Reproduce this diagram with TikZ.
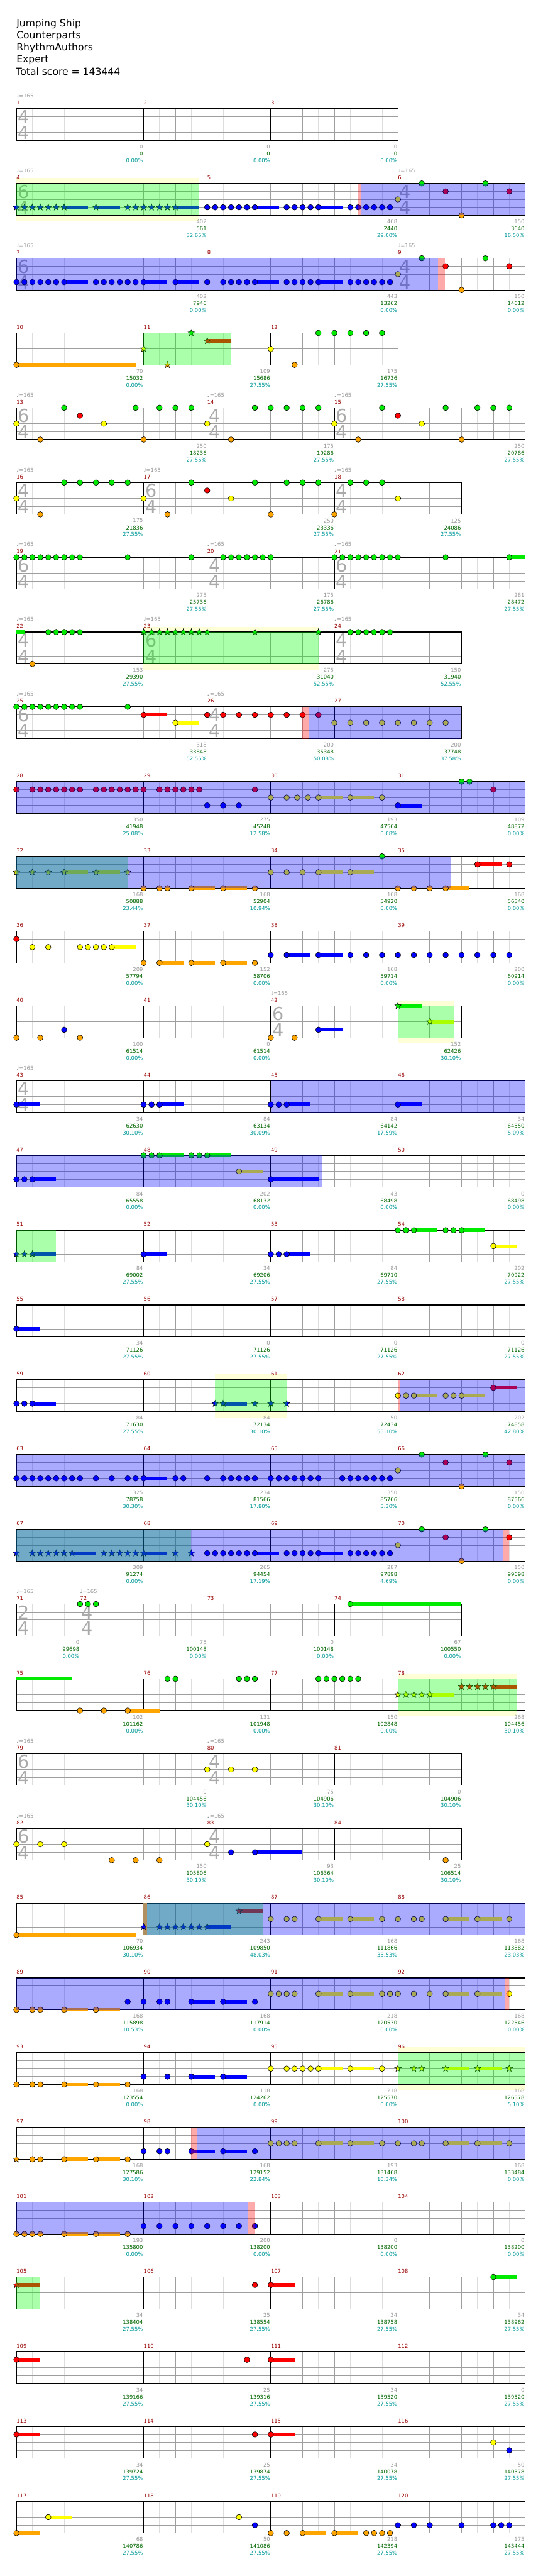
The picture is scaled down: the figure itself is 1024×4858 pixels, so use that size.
\documentclass[tikz,border=0pt]{standalone}
\usepackage{fontspec}
\setmainfont{DejaVu Sans}
\usetikzlibrary{shapes.geometric}

\definecolor{lane0}{RGB}{0,235,0}
\definecolor{lane1}{RGB}{255,0,0}
\definecolor{lane2}{RGB}{255,255,0}
\definecolor{lane3}{RGB}{0,0,255}
\definecolor{lane4}{RGB}{255,165,0}
\definecolor{numred}{RGB}{153,0,0}
\definecolor{scgray}{RGB}{153,153,153}
\definecolor{scgreen}{RGB}{0,102,0}
\definecolor{sccyan}{RGB}{0,153,153}
\definecolor{bgyellow}{RGB}{255,255,215}
\definecolor{tangold}{RGB}{176,144,96}
\definecolor{gridlight}{RGB}{221,221,221}
\definecolor{griddark}{RGB}{158,158,158}
\definecolor{tsgray}{RGB}{170,170,170}

\newcommand{\lblfont}{\fontsize{10}{12}\selectfont}

\newcommand{\staff}[2]{%
  \fill[white] (0,0) rectangle (#1,4);
  \foreach \g in {2,6,...,#1} \draw[halfline] (\g,0) -- (\g,4);
  \foreach \l in {1,2,3} \draw[laneline] (0,\l) -- (#1,\l);
  \foreach \g in {4,8,...,#1} \draw[beatline] (\g,0) -- (\g,4);
  \foreach \b in {#2} \draw[barline] (\b,0) -- (\b,4);
  \draw[staffline] (0,0) rectangle (#1,4);}
\newcommand{\bars}[1]{\foreach \p/\m in {#1} \node[mnum] (m\m) at (\p,-0.73) {\m};}
\newcommand{\tempos}[1]{\foreach \p in {#1} \node[tempo] (\rowid-bpm\p) at (\p,-1.6) {♩=165};}
\newcommand{\tsig}[3]{%
  \node[tsig] (\rowid-ts#1a) at (#1+0.93,1.03) {#2};
  \node[tsig] (\rowid-ts#1b) at (#1+0.93,3.05) {#3};}
\newcommand{\gems}[2]{\foreach \n [count=\i] in {#2} \node[gem, fill=lane#1] (\rowid-#1-\i) at (\n,#1) {};}
\newcommand{\stars}[2]{\foreach \n [count=\i] in {#2} \node[stargem, fill=lane#1] (\rowid-#1s\i) at (\n,#1) {};}
\newcommand{\tails}[2]{\foreach \a/\b in {#2} \fill[lane#1] (\a,#1-0.23) rectangle (\b,#1+0.23);}
\newcommand{\spbg}[2]{\fill[bgyellow] (#1,-0.67) rectangle (#2,4.73);}
\newcommand{\spgreen}[2]{\fill[spzone] (#1,0) rectangle (#2,4);}
\newcommand{\spblue}[2]{\fill[actzone] (#1,0) rectangle (#2,4);}
\newcommand{\sppink}[2]{\fill[pinkzone] (#1,0) rectangle (#2,4);}
\newcommand{\scores}[1]{\foreach \p/\va/\vb/\vc in {#1} {%
  \node[sgray] (\rowid-a\p) at (\p,4.8) {\va};
  \node[sgreen] (\rowid-b\p) at (\p,5.67) {\vb};
  \node[scyan] (\rowid-c\p) at (\p,6.53) {\vc\%};}}

\begin{document}
\begin{tikzpicture}[x=1pt, y=-1pt,
  chartrow/.style={shift={(31,#1)}, x=15pt, y=-15pt},
  title/.style={anchor=base west, inner sep=0pt, font=\fontsize{18.5}{22}\selectfont},
  mnum/.style={anchor=west, inner sep=0pt, font=\lblfont, text=numred},
  tempo/.style={anchor=west, inner sep=0pt, font=\lblfont, text=scgray},
  sgray/.style={anchor=east, inner xsep=1pt, inner ysep=0pt, font=\lblfont, text=scgray},
  sgreen/.style={sgray, text=scgreen},
  scyan/.style={sgray, text=sccyan},
  tsig/.style={inner sep=0pt, font=\fontsize{34}{34}\selectfont, text=tsgray},
  halfline/.style={gridlight, line width=0.8pt},
  beatline/.style={griddark, line width=0.9pt},
  laneline/.style={griddark, line width=0.9pt},
  barline/.style={black, line width=1pt},
  staffline/.style={black, line width=1.3pt},
  gem/.style={circle, draw=black, line width=0.7pt, minimum size=10.5pt, inner sep=0pt},
  stargem/.style={star, star points=5, star point ratio=2.4, draw=black, line width=0.6pt, minimum size=13pt, inner sep=0pt},
  spzone/.style={fill={rgb,255:red,0;green,255;blue,0}, fill opacity=0.334},
  actzone/.style={fill={rgb,255:red,0;green,0;blue,255}, fill opacity=0.334},
  pinkzone/.style={fill={rgb,255:red,255;green,0;blue,0}, fill opacity=0.334},
  tanzone/.style={fill=tangold}]
\useasboundingbox (0,0) rectangle (1024,4858);
\fill[white] (0,0) rectangle (1024,4858);

\node[title] (song) at (31,50) {Jumping Ship};
\node[title] (artist) at (31,73) {Counterparts};
\node[title] (charter) at (31,96) {RhythmAuthors};
\node[title] (level) at (31,118.5) {Expert};
\node[title] (total) at (30,141.5) {Total score = 143444};

\begin{scope}[chartrow=205]\def\rowid{r0}
\staff{48}{16,32}
\tsig{0}{4}{4}
\tempos{0}
\bars{0/1,16/2,32/3}
\scores{16/0/0/0.00,32/0/0/0.00,48/0/0/0.00}
\end{scope}

\begin{scope}[chartrow=346]\def\rowid{r1}
\spbg{0}{23}
\staff{64}{24,48}
\tsig{0}{6}{4}\tsig{48}{4}{4}
\tempos{0,48}
\bars{0/4,24/5,48/6}
\tails{3}{6/9,10/13,20/23,30/33,38/41}
\stars{3}{0,1,2,3,4,5,6,10,14,15,16,17,18,19,20}
\gems{3}{24,25,26,27,28,29,30,34,35,36,37,38,42,43,44,45,46,47}
\gems{2}{48}\gems{0}{51,59}\gems{1}{54,62}\gems{4}{56}
\spgreen{0}{23}\sppink{43}{43.3}\spblue{43.3}{64}
\scores{24/402/561/32.65,48/468/2440/29.00,64/150/3640/16.50}
\end{scope}

\begin{scope}[chartrow=487]\def\rowid{r2}
\staff{64}{24,48}
\tsig{0}{6}{4}\tsig{48}{4}{4}
\tempos{0,48}
\bars{0/7,24/8,48/9}
\tails{3}{6/9,16/19,20/23,30/33,38/41}
\gems{3}{0,1,2,3,4,5,6,10,11,12,13,14,15,16,20,24,26,27,28,29,30,34,35,36,37,38,42,43,44,45,46,47}
\gems{2}{48}\gems{0}{51,59}\gems{1}{54,62}\gems{4}{56}
\spblue{0}{53.07}\sppink{53.07}{53.93}
\scores{24/402/7946/0.00,48/443/13262/0.00,64/150/14612/0.00}
\end{scope}

\begin{scope}[chartrow=628]\def\rowid{r3}
\staff{48}{16,32}
\bars{0/10,16/11,32/12}
\tails{4}{0/15}\tails{1}{24/27}
\gems{4}{0,35}
\stars{2}{16}\stars{4}{19}\stars{0}{22}\stars{1}{24}
\gems{2}{32}\gems{0}{38,40,42,44,46}
\spgreen{16}{27}
\scores{16/70/15032/0.00,32/109/15686/27.55,48/175/16736/27.55}
\end{scope}

\begin{scope}[chartrow=769]\def\rowid{r4}
\staff{64}{24,40}
\tsig{0}{6}{4}\tsig{24}{4}{4}\tsig{40}{6}{4}
\tempos{0,24,40}
\bars{0/13,24/14,40/15}
\gems{0}{6,15,18,20,22,30,32,34,36,38,46,54,58,60,62}
\gems{1}{8,48}
\gems{2}{0,11,24,40,51}
\gems{4}{3,16,27,43,56}
\scores{24/250/18236/27.55,40/175/19286/27.55,64/250/20786/27.55}
\end{scope}

\begin{scope}[chartrow=910]\def\rowid{r5}
\staff{56}{16,40}
\tsig{0}{4}{4}\tsig{16}{6}{4}\tsig{40}{4}{4}
\tempos{0,16,40}
\bars{0/16,16/17,40/18}
\gems{0}{6,8,10,12,14,22,30,34,36,38,42,44,46}
\gems{1}{24}
\gems{2}{0,16,27,48}
\gems{4}{3,19,32,40}
\scores{16/175/21836/27.55,40/250/23336/27.55,56/125/24086/27.55}
\end{scope}

\begin{scope}[chartrow=1051]\def\rowid{r6}
\staff{64}{24,40}
\tsig{0}{6}{4}\tsig{24}{4}{4}\tsig{40}{6}{4}
\tempos{0,24,40}
\bars{0/19,24/20,40/21}
\tails{0}{62/64}
\gems{0}{0,1,2,3,4,5,6,7,8,14,22,26,27,28,29,30,31,32,40,41,42,43,44,45,46,47,48,54,62}
\scores{24/275/25736/27.55,40/175/26786/27.55,64/281/28472/27.55}
\end{scope}

\begin{scope}[chartrow=1192]\def\rowid{r7}
\spbg{16}{38}
\staff{56}{16,40}
\tsig{0}{4}{4}\tsig{16}{6}{4}\tsig{40}{4}{4}
\tempos{0,16,40}
\bars{0/22,16/23,40/24}
\tails{0}{0/1}
\gems{0}{4,5,6,7,8,42,43,44,45,46,47}
\gems{4}{2}
\stars{0}{16,17,18,19,20,21,22,23,24,30,38}
\spgreen{16}{38}
\scores{16/153/29390/27.55,40/275/31040/52.55,56/150/31940/52.55}
\end{scope}

\begin{scope}[chartrow=1333]\def\rowid{r8}
\staff{56}{24,40}
\tsig{0}{6}{4}\tsig{24}{4}{4}
\tempos{0,24}
\bars{0/25,24/26,40/27}
\tails{1}{16/19}\tails{2}{20/23}
\gems{0}{0,1,2,3,4,5,6,7,8,14}
\gems{1}{16,24,26,28,30,32,34,36,38}
\gems{2}{20,40,42,44,46,48,50,52,54}
\sppink{36}{36.8}\spblue{36.8}{56}
\scores{24/318/33848/52.55,40/200/35348/50.08,56/200/37748/37.58}
\end{scope}

\begin{scope}[chartrow=1474]\def\rowid{r9}
\staff{64}{16,32,48}
\bars{0/28,16/29,32/30,48/31}
\tails{2}{38/41,42/45}\tails{3}{48/51}
\gems{0}{56,57}
\gems{1}{0,2,3,4,5,6,7,8,10,11,12,13,14,15,16,18,19,20,21,22,23,30,60}
\gems{2}{32,34,35.33,36.67,38,42,46}
\gems{3}{24,26,28,48}
\spblue{0}{64}
\scores{16/350/41948/25.08,32/275/45248/12.58,48/193/47564/0.08,64/109/48872/0.00}
\end{scope}

\begin{scope}[chartrow=1615]\def\rowid{r10}
\staff{64}{16,32,48}
\bars{0/32,16/33,32/34,48/35}
\tails{1}{58/61}\tails{2}{6/9,10/13,38/41,42/45}\tails{4}{22/25,26/29,54/57}
\stars{2}{0,2,4,6,10,14}
\gems{0}{46}\gems{1}{58,62}\gems{2}{32,34,36,38,42}
\gems{4}{16,18,19,22,26,30,48,50,52,54}
\spgreen{0}{14}\spblue{0}{54.6}
\scores{16/168/50888/23.44,32/168/52904/10.94,48/168/54920/0.00,64/168/56540/0.00}
\end{scope}

\begin{scope}[chartrow=1756]\def\rowid{r11}
\staff{64}{16,32,48}
\bars{0/36,16/37,32/38,48/39}
\tails{2}{12/15}\tails{3}{34/37,38/41}\tails{4}{18/21,22/25,26/29}
\gems{1}{0}
\gems{2}{2,4,8,9,10,11,12}
\gems{3}{32,34,38,42,44,46,48,50,52,54,56,58,60,62}
\gems{4}{16,18,22,26,30}
\scores{16/209/57794/0.00,32/152/58706/0.00,48/168/59714/0.00,64/200/60914/0.00}
\end{scope}

\begin{scope}[chartrow=1897]\def\rowid{r12}
\spbg{48}{55}
\staff{56}{16,32}
\tsig{32}{6}{4}
\tempos{32}
\bars{0/40,16/41,32/42}
\tails{0}{48/51}\tails{2}{52/55}\tails{3}{38/41}
\gems{3}{6,38}\gems{4}{0,3,8,32,35}
\stars{0}{48}\stars{2}{52}
\spgreen{48}{55}
\scores{16/100/61514/0.00,32/0/61514/0.00,56/152/62426/30.10}
\end{scope}

\begin{scope}[chartrow=2038]\def\rowid{r13}
\staff{64}{16,32,48}
\tsig{0}{4}{4}
\tempos{0}
\bars{0/43,16/44,32/45,48/46}
\tails{3}{0/3,18/21,34/37,48/51}
\gems{3}{0,16,17,18,32,33,34,48}
\spblue{32}{64}
\scores{16/34/62630/30.10,32/84/63134/30.09,48/84/64142/17.59,64/34/64550/5.09}
\end{scope}

\begin{scope}[chartrow=2179]\def\rowid{r14}
\staff{64}{16,32,48}
\bars{0/47,16/48,32/49,48/50}
\tails{0}{18/21,24/27}\tails{2}{28/31}\tails{3}{2/5,32/38}
\gems{0}{16,17,18,22,23,24}\gems{2}{28}\gems{3}{0,1,2,32}
\spblue{0}{38.5}
\scores{16/84/65558/0.00,32/202/68132/0.00,48/43/68498/0.00,64/0/68498/0.00}
\end{scope}

\begin{scope}[chartrow=2320]\def\rowid{r15}
\staff{64}{16,32,48}
\bars{0/51,16/52,32/53,48/54}
\tails{0}{50/53,56/59}\tails{2}{60/63}\tails{3}{2/5,16/19,34/37}
\stars{3}{0,1,2}
\gems{0}{48,49,50,54,55,56}\gems{2}{60}\gems{3}{16,32,33,34}
\spgreen{0}{5}
\scores{16/84/69002/27.55,32/34/69206/27.55,48/84/69710/27.55,64/202/70922/27.55}
\end{scope}

\begin{scope}[chartrow=2461]\def\rowid{r16}
\staff{64}{16,32,48}
\bars{0/55,16/56,32/57,48/58}
\tails{3}{0/3}
\gems{3}{0}
\scores{16/34/71126/27.55,32/0/71126/27.55,48/0/71126/27.55,64/0/71126/27.55}
\end{scope}

\begin{scope}[chartrow=2602]\def\rowid{r17}
\spbg{25}{34}
\staff{64}{16,32,48}
\bars{0/59,16/60,32/61,48/62}
\tails{1}{60/63}\tails{2}{50/53,56/59}\tails{3}{2/5,26/29}
\gems{3}{0,1,2}
\stars{3}{25,26,30,32,34}
\gems{1}{60}\gems{2}{48,49,50,54,55,56}
\spgreen{25}{34}\sppink{48}{48.2}\spblue{48.2}{64}
\scores{16/84/71630/27.55,32/84/72134/30.10,48/50/72434/55.10,64/202/74858/42.80}
\end{scope}

\begin{scope}[chartrow=2743]\def\rowid{r18}
\staff{64}{16,32,48}
\bars{0/63,16/64,32/65,48/66}
\tails{3}{16/19}
\gems{3}{0,1,2,3,4,5,6,7,8,10,12,14,15,16,20,21,24,26,27,28,29,30,32,33,34,35,36,37,38,41,42,43,44,45,46,47}
\gems{2}{48}\gems{0}{51,59}\gems{1}{54,62}\gems{4}{56}
\spblue{0}{64}
\scores{16/325/78758/30.30,32/234/81566/17.80,48/350/85766/5.30,64/150/87566/0.00}
\end{scope}

\begin{scope}[chartrow=2884]\def\rowid{r19}
\staff{64}{16,32,48}
\bars{0/67,16/68,32/69,48/70}
\tails{3}{7/10,16/19,30/33,38/41}
\stars{3}{0,2,3,4,5,6,7,11,12,13,14,15,16,20,22}
\gems{3}{24,25,26,27,28,29,30,34,35,36,37,38,42,43,44,45,46,47}
\gems{2}{48}\gems{0}{51,59}\gems{1}{54,62}\gems{4}{56}
\spgreen{0}{22}\spblue{0}{61.3}\sppink{61.3}{62}
\scores{16/309/91274/0.00,32/265/94454/17.19,48/287/97898/4.69,64/150/99698/0.00}
\end{scope}

\begin{scope}[chartrow=3025]\def\rowid{r20}
\staff{56}{8,24,40}
\tsig{0}{2}{4}\tsig{8}{4}{4}
\tempos{0,8}
\bars{0/71,8/72,24/73,40/74}
\tails{0}{42/56}
\gems{0}{8,9,10,42}
\scores{8/0/99698/0.00,24/75/100148/0.00,40/0/100148/0.00,56/67/100550/0.00}
\end{scope}

\begin{scope}[chartrow=3166]\def\rowid{r21}
\spbg{48}{63}
\staff{64}{16,32,48}
\bars{0/75,16/76,32/77,48/78}
\tails{0}{0/7}\tails{4}{14/18}\tails{2}{52/55}\tails{1}{60/63}
\gems{4}{8,11,14}
\gems{0}{19,20,28,29,30,38,39,40,41,42,43}
\stars{2}{48,49,50,51,52}\stars{1}{56,57,58,59,60}
\spgreen{48}{63}
\scores{16/102/101162/0.00,32/131/101948/0.00,48/150/102848/0.00,64/268/104456/30.10}
\end{scope}

\begin{scope}[chartrow=3307]\def\rowid{r22}
\staff{56}{24,40}
\tsig{0}{6}{4}\tsig{24}{4}{4}
\tempos{0,24}
\bars{0/79,24/80,40/81}
\gems{2}{24,27,30}
\scores{24/0/104456/30.10,40/75/104906/30.10,56/0/104906/30.10}
\end{scope}

\begin{scope}[chartrow=3448]\def\rowid{r23}
\staff{56}{24,40}
\tsig{0}{6}{4}\tsig{24}{4}{4}
\tempos{0,24}
\bars{0/82,24/83,40/84}
\tails{3}{30/36}
\gems{2}{0,3,6,24}\gems{3}{27,30}\gems{4}{12,15,18,54}
\scores{24/150/105806/30.10,40/93/106364/30.10,56/25/106514/30.10}
\end{scope}

\begin{scope}[chartrow=3589]\def\rowid{r24}
\staff{64}{16,32,48}
\bars{0/85,16/86,32/87,48/88}
\fill[tanzone] (16,0) rectangle (16.4,4);
\tails{4}{0/15}\tails{3}{24/27}\tails{1}{28/31}\tails{2}{38/41,42/45,54/57,58/61}
\gems{4}{0}
\stars{3}{16,18,19,20,21,22,23,24}\stars{1}{28}
\gems{2}{32,34,35,38,42,46,48,50,51,54,58,62}
\spgreen{16.4}{31}\spblue{16.4}{64}
\scores{16/70/106934/30.10,32/243/109850/48.03,48/168/111866/35.53,64/168/113882/23.03}
\end{scope}

\begin{scope}[chartrow=3730]\def\rowid{r25}
\staff{64}{16,32,48}
\bars{0/89,16/90,32/91,48/92}
\tails{4}{6/9,10/13}\tails{3}{22/25,26/29}\tails{2}{38/41,42/45,54/57,58/61}
\gems{4}{0,2,3,6,10}
\gems{3}{14,16,18,19,22,26,30}
\gems{2}{32,33,34,35,38,42,46,47,48,50,52,54,58,62}
\spblue{0}{61.5}\sppink{61.5}{62}
\scores{16/168/115898/10.53,32/168/117914/0.00,48/218/120530/0.00,64/168/122546/0.00}
\end{scope}

\begin{scope}[chartrow=3871]\def\rowid{r26}
\spbg{48}{64}
\staff{64}{16,32,48}
\bars{0/93,16/94,32/95,48/96}
\tails{4}{6/9,10/13}\tails{3}{22/25,26/29}\tails{2}{38/41,42/45,54/57,58/61}
\gems{4}{0,2,3,6,10,14}
\gems{3}{16,19,22,26}
\gems{2}{32,34,35,36,37,38,42,46}
\stars{2}{48,50,51,54,58,62}
\spgreen{48}{64}
\scores{16/168/123554/0.00,32/118/124262/0.00,48/218/125570/0.00,64/168/126578/5.10}
\end{scope}

\begin{scope}[chartrow=4012]\def\rowid{r27}
\staff{64}{16,32,48}
\bars{0/97,16/98,32/99,48/100}
\tails{4}{6/9,10/13}\tails{3}{22/25,26/29}\tails{2}{38/41,42/45,54/57,58/61}
\stars{4}{0}
\gems{4}{2,3,6,10,14}
\gems{3}{16,18,19,22,26,30}
\gems{2}{32,33,34,35,38,42,46,48,50,51,54,58,62}
\sppink{22}{22.7}\spblue{22.7}{64}
\scores{16/168/127586/30.10,32/168/129152/22.84,48/193/131468/10.34,64/168/133484/0.00}
\end{scope}

\begin{scope}[chartrow=4153]\def\rowid{r28}
\staff{64}{16,32,48}
\bars{0/101,16/102,32/103,48/104}
\tails{4}{6/9,10/13}
\gems{4}{0,1,2,3,6,10,14}
\gems{3}{16,18,20,22,24,26,28,30}
\spblue{0}{29.2}\sppink{29.2}{30}
\scores{16/193/135800/0.00,32/200/138200/0.00,48/0/138200/0.00,64/0/138200/0.00}
\end{scope}

\begin{scope}[chartrow=4294]\def\rowid{r29}
\staff{64}{16,32,48}
\bars{0/105,16/106,32/107,48/108}
\tails{1}{0/3,32/35}\tails{0}{60/63}
\stars{1}{0}\gems{1}{30,32}\gems{0}{60}
\spgreen{0}{3}
\scores{16/34/138404/27.55,32/25/138554/27.55,48/34/138758/27.55,64/34/138962/27.55}
\end{scope}

\begin{scope}[chartrow=4435]\def\rowid{r30}
\staff{64}{16,32,48}
\bars{0/109,16/110,32/111,48/112}
\tails{1}{0/3,32/35}
\gems{1}{0,29,32}
\scores{16/34/139166/27.55,32/25/139316/27.55,48/34/139520/27.55,64/0/139520/27.55}
\end{scope}

\begin{scope}[chartrow=4576]\def\rowid{r31}
\staff{64}{16,32,48}
\bars{0/113,16/114,32/115,48/116}
\tails{1}{0/3,32/35}
\gems{1}{0,30,32}\gems{2}{60}\gems{3}{62}
\scores{16/34/139724/27.55,32/25/139874/27.55,48/34/140078/27.55,64/50/140378/27.55}
\end{scope}

\begin{scope}[chartrow=4717]\def\rowid{r32}
\staff{64}{16,32,48}
\bars{0/117,16/118,32/119,48/120}
\tails{4}{0/3,36/39,40/43}\tails{2}{4/7}
\gems{4}{0,32,34,36,40,44,45,46,47}
\gems{2}{4,28}
\gems{3}{30,48,50,52,56,60,61,62}
\scores{16/68/140786/27.55,32/50/141086/27.55,48/218/142394/27.55,64/175/143444/27.55}
\end{scope}
\end{tikzpicture}
\end{document}
